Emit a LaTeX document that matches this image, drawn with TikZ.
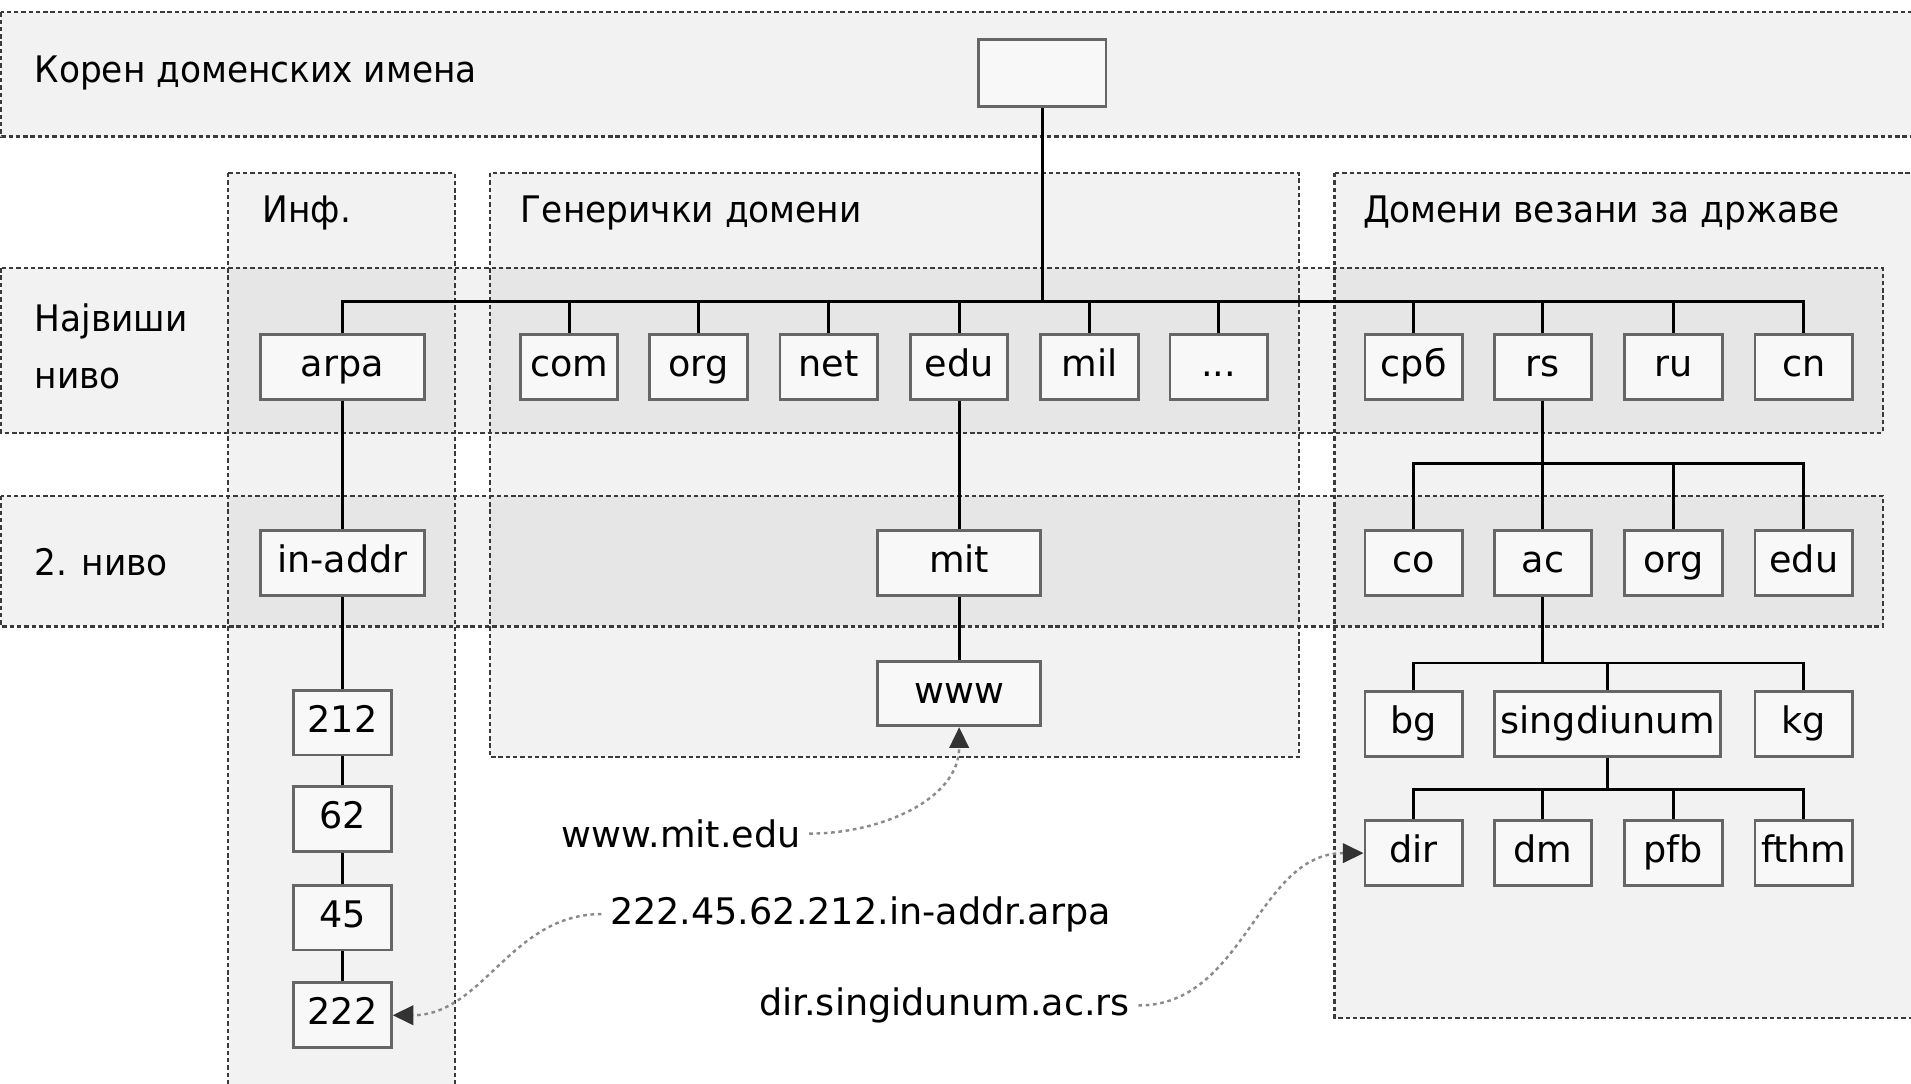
\documentclass[tikz,border=0pt]{standalone}
\usepackage{fontspec}
\setmainfont{DejaVu Sans}
\newfontfamily\cyrnarrow[FakeStretch=0.94]{DejaVu Sans}
\usetikzlibrary{arrows.meta}

\definecolor{boxline}{HTML}{666666}
\definecolor{boxfill}{HTML}{F8F8F8}
\definecolor{zoneline}{HTML}{3A3A3A}
\definecolor{hintline}{HTML}{8A8A8A}
\definecolor{hinttip}{HTML}{333333}

\begin{document}
\begin{tikzpicture}[x=0.5pt, y=-0.5pt,
    font=\fontsize{15}{18}\selectfont,
    zone/.style={draw=zoneline, line width=0.9pt, dash pattern=on 1.8pt off 1.2pt, fill=black, fill opacity=0.05},
    zonelabel/.style={anchor=west, inner sep=0pt, font=\fontsize{15}{18}\cyrnarrow},
    dnsbox/.style={draw=boxline, fill=boxfill, line width=1.2pt, minimum width=40pt, minimum height=26.5pt, inner sep=1pt, text height=11pt, text depth=3pt},
    widebox/.style={dnsbox, minimum width=67pt},
    tree/.style={line width=1.2pt},
    hint/.style={draw=hintline, line width=1pt, dash pattern=on 1.5pt off 1.5pt, -{Triangle[length=8.5pt, width=8pt, fill=hinttip, color=hinttip]}}]
\useasboundingbox (0,0) rectangle (1568,889);

\path[zone] (1,10) rectangle (1580,112) ; % root zone
\path[zone] (187,142) rectangle (373,900) ; % Inf.
\path[zone] (402,142) rectangle (1066,621) ; % generic
\path[zone] (1095,142) rectangle (1580,835) ; % countries
\path[zone] (1,220) rectangle (1545,355) ; % top level
\path[zone] (1,407) rectangle (1545,514) ; % 2nd level

\node[zonelabel] (rootlbl) at (28,60) {Корен доменских имена};
\node[zonelabel] (inflbl) at (215,175) {Инф.};
\node[zonelabel] (genlbl) at (427,175) {Генерички домени};
\node[zonelabel] (cclbl) at (1118,175) {Домени везани за државе};
\node[zonelabel, align=left, font=\fontsize{15}{23.5}\cyrnarrow] (toplbl) at (28,284) {Највиши\\ниво};
\node[zonelabel] (secondlbl) at (28,461) {2. ниво};

\node[dnsbox, minimum width=52.5pt, minimum height=27.5pt] (root) at (855,60) {}; % root

\node[widebox] (arpa) at (281,301) {arpa};
\node[dnsbox] (com) at (467,301) {com};
\node[dnsbox] (org) at (573,301) {org};
\node[dnsbox] (net) at (680,301) {net};
\node[dnsbox] (edu) at (787,301) {edu};
\node[dnsbox] (mil) at (894,301) {mil};
\node[dnsbox] (etc) at (1000,301) {...};
\node[dnsbox] (srb) at (1160,301) {срб};
\node[dnsbox] (rs) at (1266,301) {rs};
\node[dnsbox] (ru) at (1373,301) {ru};
\node[dnsbox] (cn) at (1480,301) {cn};

\node[widebox] (inaddr) at (281,462) {in-addr};
\node[widebox] (mit) at (787,462) {mit};
\node[dnsbox] (co) at (1160,462) {co};
\node[dnsbox] (ac) at (1266,462) {ac};
\node[dnsbox] (rsorg) at (1373,462) {org};
\node[dnsbox] (rsedu) at (1480,462) {edu};

\node[widebox] (www) at (787,569) {www};

\node[dnsbox] (n212) at (281,593) {212};
\node[dnsbox] (n62) at (281,672) {62};
\node[dnsbox] (n45) at (281,753) {45};
\node[dnsbox] (n222) at (281,833) {222};

\node[dnsbox] (bg) at (1160,594) {bg};
\node[dnsbox, minimum width=92.5pt] (sing) at (1319,594) {singdiunum};
\node[dnsbox] (kg) at (1480,594) {kg};

\node[dnsbox] (dir) at (1160,700) {dir};
\node[dnsbox] (dm) at (1266,700) {dm};
\node[dnsbox] (pfb) at (1373,700) {pfb};
\node[dnsbox] (fthm) at (1480,700) {fthm};

% top level bus
\coordinate (bus1) at (855,247);
\draw[tree] (root.south) -- (bus1);
\draw[tree] (bus1) -| (arpa.north);
\draw[tree] (bus1) -| (com.north);
\draw[tree] (bus1) -| (org.north);
\draw[tree] (bus1) -| (net.north);
\draw[tree] (bus1) -| (edu.north);
\draw[tree] (bus1) -| (mil.north);
\draw[tree] (bus1) -| (etc.north);
\draw[tree] (bus1) -| (srb.north);
\draw[tree] (bus1) -| (rs.north);
\draw[tree] (bus1) -| (ru.north);
\draw[tree] (bus1) -| (cn.north);

% arpa chain
\draw[tree] (arpa) -- (inaddr);
\draw[tree] (inaddr) -- (n212);
\draw[tree] (n212) -- (n62);
\draw[tree] (n62) -- (n45);
\draw[tree] (n45) -- (n222);

% edu chain
\draw[tree] (edu) -- (mit);
\draw[tree] (mit) -- (www);

% rs
\coordinate (bus2) at (1266,380);
\draw[tree] (rs.south) -- (bus2);
\draw[tree] (bus2) -| (co.north);
\draw[tree] (bus2) -- (ac.north);
\draw[tree] (bus2) -| (rsorg.north);
\draw[tree] (bus2) -| (rsedu.north);

% ac
\coordinate (bus3) at (1266,544);
\draw[tree] (ac.south) -- (bus3);
\draw[tree] (bus3) -| (bg.north);
\draw[tree] (bus3) -| (sing.north);
\draw[tree] (bus3) -| (kg.north);

% singdiunum
\coordinate (bus4) at (1319,648);
\draw[tree] (sing.south) -- (bus4);
\draw[tree] (bus4) -| (dir.north);
\draw[tree] (bus4) -| (dm.north);
\draw[tree] (bus4) -| (pfb.north);
\draw[tree] (bus4) -| (fthm.north);

% names
\node (webname) at (559,684) {www.mit.edu};
\node (arpaname) at (706,750) {222.45.62.212.in-addr.arpa};
\node (dirname) at (775,825) {dir.singidunum.ac.rs};

\draw[hint] (webname.east) to[out=0, in=-90] (www.south);
\draw[hint] (arpaname.west) to[out=180, in=0] (n222.east);
\draw[hint] (dirname.east) to[out=0, in=180] (dir.west);
\end{tikzpicture}
\end{document}
